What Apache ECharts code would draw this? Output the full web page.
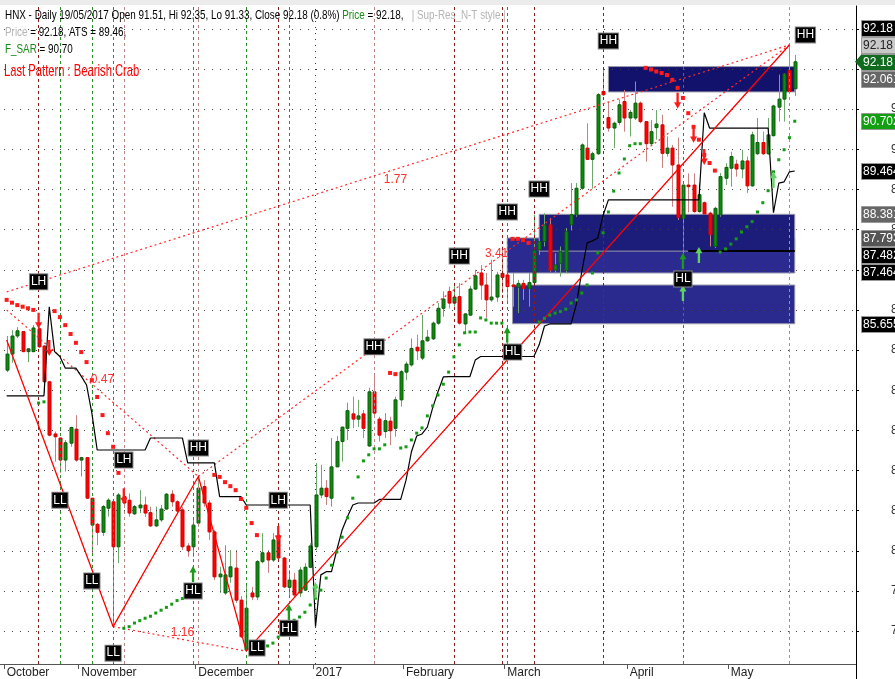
<!DOCTYPE html>
<html>
<head>
<meta charset="utf-8">
<script src="https://cdn.jsdelivr.net/npm/echarts@6/dist/echarts.min.js"></script>
<style>
html, body { margin: 0; padding: 0; background: #fff; }
#chart { width: 895px; height: 679px; }
</style>
</head>
<body>
<div id="chart"></div>
<script>
// sessions per month on screen (Oct 2016 .. May 2017), plus empty bars on the right
const months = [['October', 14], ['November', 22], ['December', 22], ['2017', 17],
                ['February', 19], ['March', 23], ['April', 19], ['May', 13]];
const blankBars = 11;

// daily bars: [open, close, low, high]
const ohlc = [
  [84.50,84.90,84.45,85.35],[84.90,85.35,84.68,85.50],[85.35,85.48,85.30,85.57],[85.46,84.96,84.95,85.47],
  [84.96,85.03,84.70,85.04],[84.96,85.55,84.95,85.62],[85.53,85.08,85.05,85.58],[85.10,84.21,83.93,85.13],
  [84.21,82.88,82.85,84.22],[82.91,82.84,82.22,82.97],[82.81,82.26,81.94,82.81],[82.26,82.69,81.97,82.76],
  [82.68,83.07,82.59,83.09],[83.03,82.26,82.22,83.38],[82.26,82.32,81.85,82.34],[82.32,81.31,81.30,82.33],
  [81.31,80.64,79.94,81.31],[80.66,80.46,80.14,80.69],[80.46,81.10,80.37,81.14],[81.06,81.26,80.85,81.31],
  [81.22,80.10,78.11,81.24],[80.10,81.39,79.69,81.44],[81.35,81.19,81.10,81.43],[81.26,80.94,80.85,81.43],
  [80.92,81.10,80.89,81.14],[81.07,81.14,80.94,81.51],[81.14,80.94,80.84,81.35],[80.95,80.62,80.59,81.10],
  [80.62,80.77,80.59,81.10],[80.77,81.04,80.72,81.14],[81.04,81.41,81.02,81.44],[81.41,81.22,81.10,81.51],
  [81.22,80.99,80.94,81.26],[81.02,80.10,80.02,81.10],[80.12,80.00,79.85,80.19],[80.10,80.64,79.85,80.77],
  [80.69,81.56,80.60,81.85],[81.60,81.19,81.10,81.76],[81.19,80.47,80.27,81.26],[80.47,79.35,79.27,80.52],
  [79.35,79.42,78.95,79.60],[78.95,79.40,78.90,80.14],[79.35,79.60,79.20,80.02],[79.57,78.77,78.70,80.02],
  [78.77,77.86,77.83,78.87],[77.53,78.57,77.50,79.20],[78.95,78.85,78.77,79.10],[78.85,79.73,78.77,79.77],
  [79.73,79.95,79.69,80.44],[79.95,79.77,79.45,80.02],[79.77,80.27,79.72,80.44],[80.39,79.82,79.77,80.57],
  [79.82,79.10,79.07,79.85],[79.09,79.27,78.85,79.52],[79.27,78.90,78.85,79.45],[78.95,79.52,78.85,79.60],
  [79.02,79.59,79.00,79.69],[79.59,80.12,79.57,80.19],[80.10,81.39,80.02,82.19],[81.39,81.56,81.31,82.14],
  [81.56,81.35,81.14,81.76],[81.31,82.09,81.10,82.81],[82.09,82.72,82.09,82.86],[82.72,83.08,82.22,83.09],
  [83.05,83.49,82.76,83.69],[83.41,83.28,83.05,83.84],[83.28,83.36,83.09,83.76],[83.41,83.05,82.81,83.51],
  [82.61,83.96,82.59,84.06],[83.96,83.43,83.31,84.42],[83.28,82.88,82.72,83.34],[82.97,83.24,82.81,83.43],
  [83.23,82.99,82.63,83.34],[83.05,83.76,82.84,83.84],[83.76,84.46,83.59,84.50],[84.45,84.65,84.25,84.71],
  [84.63,85.04,84.59,85.29],[85.07,84.98,84.75,85.38],[84.80,85.23,84.75,85.87],[85.23,85.32,85.21,85.50],
  [85.28,85.67,85.25,85.71],[85.67,86.04,85.63,86.17],[86.04,86.27,85.83,86.46],[86.46,86.17,86.04,86.58],
  [86.17,86.32,86.08,86.62],[86.33,85.67,85.63,86.67],[85.65,85.90,85.42,85.92],[85.87,86.52,85.85,86.60],
  [86.52,86.85,86.50,87.00],[86.92,86.62,86.25,87.12],[86.62,86.25,85.80,86.92],[86.25,86.32,86.20,87.25],
  [86.32,86.87,86.20,86.95],[86.91,86.81,86.42,87.58],[86.87,86.58,86.17,86.92],[86.62,86.58,86.08,86.92],
  [86.56,86.66,85.92,86.75],[86.66,86.54,86.25,86.75],[86.54,86.68,86.08,86.92],[86.68,87.48,86.67,88.37],
  [87.50,87.70,87.37,87.79],[87.70,88.12,87.58,88.41],[88.12,86.99,86.95,88.29],[86.99,87.12,86.91,87.41],
  [87.16,87.45,86.83,87.58],[86.98,87.95,86.91,88.04],[88.12,88.37,87.98,89.16],[88.37,89.03,88.32,89.16],
  [89.03,90.11,88.99,90.15],[90.03,89.75,89.74,90.65],[89.75,89.89,89.02,89.94],[89.89,91.36,89.86,91.40],
  [91.44,91.36,91.33,92.02],[90.79,90.53,90.44,91.19],[90.53,90.65,90.03,90.69],[90.67,91.11,90.61,91.24],
  [91.19,90.78,90.44,91.48],[90.78,90.92,90.32,90.98],[90.78,91.15,90.73,91.69],[91.15,90.69,90.65,91.19],
  [90.69,90.14,89.69,90.70],[90.14,90.44,90.11,90.73],[90.54,90.63,90.24,90.98],[90.61,89.90,89.54,90.86],
  [89.90,90.03,89.82,90.32],[90.03,89.61,88.57,90.11],[89.61,88.30,88.24,90.29],[88.28,89.11,87.25,89.11],
  [89.11,89.07,88.43,89.40],[89.11,88.45,88.42,89.40],[88.45,88.87,88.42,89.16],[88.67,88.39,88.37,88.70],
  [88.41,87.87,87.58,88.45],[87.58,88.53,87.54,88.57],[88.37,89.32,88.32,89.41],[89.28,89.55,89.11,89.65],
  [89.53,89.82,89.07,89.94],[89.63,89.51,89.32,89.74],[89.51,89.71,89.28,89.99],[89.71,89.09,88.91,89.82],
  [89.09,90.36,89.07,90.44],[89.89,90.17,89.86,90.78],[90.17,89.89,89.86,90.44],[89.89,90.36,89.86,90.78],
  [90.34,91.08,90.32,91.11],[91.05,91.25,90.69,91.86],[91.25,91.88,90.69,91.90],[91.96,91.44,91.40,92.60],
  [91.51,92.18,91.33,92.35]
];

// F_SAR value per bar (null = no dot shown)
const sar = [
  86.25,86.18,86.12,86.08,86.04,86.00,83.68,83.71,null,85.97,
  85.82,85.62,85.40,85.18,84.95,84.70,84.25,83.83,83.38,82.93,
  82.59,81.94,78.07,78.11,78.20,78.26,78.32,78.37,78.45,78.52,
  78.59,78.67,78.76,78.81,78.90,79.02,79.15,null,null,81.89,
  81.84,81.71,81.61,81.51,81.29,81.07,80.69,80.39,77.58,77.63,
  77.70,77.85,77.90,78.12,78.27,78.35,78.47,78.65,78.82,79.02,
  79.32,79.64,79.97,80.34,80.82,81.31,81.84,82.24,82.39,82.54,
  82.54,82.64,84.43,84.40,82.56,82.59,82.76,82.93,83.06,83.36,
  83.61,83.88,84.15,84.45,84.83,85.13,85.43,85.45,85.45,85.80,
  85.75,85.67,85.67,85.67,null,87.77,87.77,87.74,87.67,null,
  85.70,85.79,85.87,85.92,85.96,86.02,86.17,86.25,86.42,86.62,
  86.92,87.42,87.92,88.44,88.96,89.41,89.76,90.09,90.14,90.14,
  92.03,91.99,91.94,91.90,91.85,91.73,91.53,91.28,90.90,90.56,
  90.24,89.86,89.66,89.47,87.44,87.52,87.64,87.77,87.94,88.07,
  88.20,88.44,88.67,88.97,89.44,89.74,89.99,90.29,90.70
];

// ATS trailing stop per bar
const ats = [
  83.86,83.86,83.86,83.86,83.86,83.86,83.86,83.86,86.08,84.96,
  84.84,84.55,84.55,84.55,84.35,84.13,83.43,82.51,82.51,82.51,
  82.51,82.51,82.51,82.51,82.51,82.51,82.51,82.81,82.81,82.81,
  82.81,82.81,82.81,82.81,82.19,82.19,82.19,82.19,82.19,82.19,
  81.35,81.35,81.35,81.35,81.35,81.14,81.14,81.14,81.14,81.14,
  81.14,81.14,81.14,81.14,81.14,81.14,81.14,81.14,78.11,79.40,
  79.48,79.48,80.02,80.52,80.85,81.14,81.19,81.19,81.19,81.19,
  81.28,81.28,81.28,81.28,81.28,81.76,82.46,82.86,82.91,83.08,
  83.56,83.96,84.33,84.34,84.34,84.34,84.34,84.34,84.75,84.84,
  84.84,84.84,84.84,84.84,84.84,84.84,84.84,84.84,84.84,84.84,
  85.13,85.60,85.65,85.65,85.65,85.65,85.65,86.15,86.95,87.67,
  87.72,87.79,88.35,88.74,88.74,88.74,88.74,88.74,88.74,88.74,
  88.74,88.74,88.74,88.74,88.74,88.74,88.74,88.74,88.74,88.74,
  88.74,90.91,90.53,90.53,90.53,90.53,90.53,90.53,90.53,90.53,
  90.53,90.53,90.53,90.53,88.42,89.16,89.19,89.44,89.46
];

// zigzag pivots [bar, price]
const zigzag = [[0, 85.25], [20, 78.11], [36, 81.85], [45, 77.50], [147, 92.60]];
// harmonic pattern legs [barA, priceA, barB, priceB]
const patternLegs = [[0, 86.45, 147, 92.60], [36, 81.85, 147, 92.60], [0, 86.00, 36, 81.85], [20, 78.11, 45, 77.50]];
// ratio texts [text, bar, price]
const ratioTexts = [['1.77', 73, 89.24], ['0.47', 18, 84.25], ['1.16', 33, 77.95], ['3.41', 92, 87.40]];
// swing tags [bar, price, text]
const swingTags = [
  [6, 86.70, 'LH'], [10, 81.26, 'LL'], [16, 79.25, 'LL'], [20, 77.45, 'LL'], [22, 82.26, 'LH'],
  [35, 79.00, 'HL'], [36, 82.56, 'HH'], [47, 77.58, 'LL'], [51, 81.26, 'LH'], [53, 78.07, 'HL'],
  [69, 85.08, 'HH'], [85, 87.34, 'HH'], [94, 88.44, 'HH'], [95, 84.95, 'HL'], [100, 89.01, 'HH'],
  [113, 92.70, 'HH'], [127, 86.77, 'HL'], [150, 92.85, 'HH']
];
// signal arrows
const sellArrows = [[6, 85.73], [8, 85.05], [22, 81.36], [51, 80.42], [126, 91.21], [129, 90.36], [131, 89.81]];
const buyArrows = [[35, 79.42], [53, 78.47], [94, 85.38], [127, 87.22]];
const buyArrowsLight = [[58, 79.02], [127, 86.42], [130, 87.37], [144, 89.24]];
// signal bars (vertical lines)
const sellBars = [6, 51, 84, 93, 99, 112];
const sellBarsLight = [22, 36, 69, 147];
const buyBars = [10, 16, 20, 35, 45, 53, 94, 127];
// supply / demand zones [fromBar, toBar, top, bottom]
const zones = [[113, 148, 92.061, 91.43], [94, 148, 87.793, 86.92], [100, 148, 88.381, 87.464], [95, 148, 86.62, 85.655]];
const stopLine = [128, 148, 87.47];
// right-hand value tags
const tagValues = [92.18, 92.18, 92.18, 92.061, 90.702, 89.464, 88.381, 87.793, 87.482, 87.464, 85.655];
const tagKinds = ['high', 'price', 'close', 'zone', 'sar', 'ats', 'zone', 'zone2', 'stop', 'stop', 'stop'];
const priceTicks = [78, 79, 80, 81, 82, 83, 84, 85, 86, 87, 88, 89, 90, 91, 92, 93];
const yMin = 77.18, yMax = 93.57;

const FONT = '"Liberation Sans", Arial, sans-serif';

const categories = [];
const monthStarts = new Set();
months.forEach(([name, n]) => {
  monthStarts.add(categories.length);
  for (let k = 0; k < n; k++) categories.push(name + '#' + k);
});
for (let k = 0; k < blankBars; k++) categories.push('#b' + k);
const yearBar = categories.indexOf('2017#0');

const chart = echarts.init(document.getElementById('chart'), null, { renderer: 'canvas' });

const vLine = (idx, color, dash) => ({ xAxis: idx, lineStyle: { color: color, type: dash, width: 1 } });

const arrowDown = 'path://M2,0 L4,0 L4,9 L6,9 L3,15 L0,9 L2,9 Z';
const arrowUp = 'path://M3,0 L6,6 L4,6 L4,15 L2,15 L2,6 L0,6 Z';

const option = {
  animation: false,
  backgroundColor: '#ffffff',
  textStyle: { fontFamily: FONT },
  grid: { left: 4, right: 39, top: 6, bottom: 15, outerBoundsMode: 'none', containLabel: false },
  xAxis: {
    type: 'category',
    data: categories,
    boundaryGap: true,
    axisLine: { lineStyle: { color: '#555', width: 1 } },
    axisTick: { show: true, length: 5, interval: (i) => monthStarts.has(i), lineStyle: { color: '#555' } },
    axisLabel: {
      interval: (i) => monthStarts.has(i), align: 'left', margin: 3,
      color: '#222', fontSize: 12, fontFamily: FONT,
      formatter: (v) => v.split('#')[0]
    },
    splitLine: { show: false }
  },
  yAxis: {
    type: 'value',
    position: 'right',
    min: yMin,
    max: yMax,
    axisLine: { show: true, lineStyle: { color: '#000' } },
    axisTick: { show: true, length: 3, customValues: priceTicks, lineStyle: { color: '#000' } },
    axisLabel: { show: true, customValues: priceTicks, margin: 35, color: '#333', fontSize: 12, fontFamily: FONT },
    splitLine: { show: false }
  },
  series: [
    {
      // backdrop: grid lines, signal lines
      type: 'line',
      data: ats,
      showSymbol: false,
      silent: true,
      z: 1,
      lineStyle: { opacity: 0 },
      markLine: {
        silent: true, symbol: 'none', label: { show: false }, animation: false,
        data: [].concat(
          priceTicks.map(p => ({ yAxis: p, lineStyle: { color: '#444', type: [1, 7], width: 1 } })),
          sellBars.map(b => vLine(b, '#8b1c1c', [3, 3])),
          sellBarsLight.map(b => vLine(b, '#b98585', [3, 3])),
          buyBars.map(b => vLine(b, '#2e8b2e', [3, 3])),
          [vLine(yearBar, '#333', [1, 5])]
        )
      }
    },
    {
      // zones
      type: 'line',
      data: [],
      silent: true,
      z: 2,
      markArea: {
        silent: true,
        data: zones.map((zn, k) => [
          { coord: [zn[0], zn[2]], itemStyle: { color: ['#12126c', '#2a2a90', '#1c1c7a', '#29298e'][k], borderColor: '#9a9aaa', borderWidth: 1, opacity: 1 } },
          { coord: [zn[1], zn[3]] }
        ])
      }
    },
    {
      name: 'price',
      type: 'custom',
      z: 4,
      encode: { x: 0, y: [1, 2, 3, 4] },
      data: ohlc.map((d, i) => [i, d[0], d[1], d[2], d[3]]),
      renderItem: function (params, api) {
        const i = api.value(0);
        const o = api.coord([i, api.value(1)]);
        const c = api.coord([i, api.value(2)]);
        const l = api.coord([i, api.value(3)]);
        const h = api.coord([i, api.value(4)]);
        const up = api.value(2) >= api.value(1);
        const x = Math.round(o[0]) + 0.5;
        const top = Math.min(o[1], c[1]);
        const ht = Math.max(1, Math.abs(o[1] - c[1]));
        return {
          type: 'group',
          children: [
            { type: 'line', shape: { x1: x, y1: h[1], x2: x, y2: l[1] },
              style: { stroke: up ? '#6fa86f' : '#c98080', lineWidth: 1 } },
            { type: 'rect', shape: { x: x - 1.5, y: top, width: 3, height: ht },
              style: { fill: up ? '#0c8c0c' : '#ff0000', stroke: up ? '#0a5c0a' : '#d40000', lineWidth: 1 } }
          ]
        };
      }
    },
    {
      name: 'ATS',
      type: 'line',
      data: ats,
      showSymbol: false,
      z: 5,
      lineStyle: { color: '#000', width: 1.2 }
    },
    {
      name: 'zigzag',
      type: 'line',
      data: zigzag,
      showSymbol: false,
      z: 6,
      lineStyle: { color: '#ff0000', width: 1.3 },
      markLine: {
        silent: true, symbol: 'none', label: { show: false },
        data: [
          ...patternLegs.map(pl => [
            { coord: [pl[0], pl[1]], lineStyle: { color: '#ff2a2a', type: [2, 3], width: 1.2 } },
            { coord: [pl[2], pl[3]] }
          ]),
          [{ coord: [stopLine[0], stopLine[2]], lineStyle: { color: '#000', type: 'solid', width: 2 } },
           { coord: [stopLine[1], stopLine[2]] }]
        ]
      }
    },
    {
      name: 'F_SAR',
      type: 'scatter',
      z: 7,
      symbol: 'rect',
      itemStyle: { opacity: 1 },
      data: sar.map((v, i) => v == null ? null : {
        value: [i, v],
        symbolSize: v > ohlc[i][1] ? 4 : 3,
        itemStyle: { color: v > ohlc[i][1] ? '#ff1a1a' : '#159a15', opacity: 1 }
      }).filter(Boolean)
    },
    {
      type: 'scatter', z: 8, symbol: arrowDown, symbolSize: [7, 16], symbolKeepAspect: false,
      itemStyle: { color: '#ff1a1a', opacity: 1 }, data: sellArrows
    },
    {
      type: 'scatter', z: 8, symbol: arrowUp, symbolSize: [7, 16], symbolKeepAspect: false,
      itemStyle: { color: '#1c9a1c', opacity: 1 }, data: buyArrows
    },
    {
      type: 'scatter', z: 8, symbol: arrowUp, symbolSize: [7, 16], symbolKeepAspect: false,
      itemStyle: { color: '#5fd35f', opacity: 1 }, data: buyArrowsLight
    },
    {
      type: 'scatter', z: 9, symbol: 'rect', symbolSize: 1,
      itemStyle: { color: 'rgba(0,0,0,0)', opacity: 1 },
      data: swingTags.map(t => ({ value: [t[0], t[1]], name: t[2] })),
      label: {
        show: true, position: 'inside', formatter: '{b}', opacity: 1,
        color: '#fff', backgroundColor: '#000', borderColor: '#8a8a8a', borderWidth: 1,
        padding: [2, 1, 1, 1], fontSize: 12, fontFamily: FONT
      }
    },
    {
      type: 'scatter', z: 9, symbol: 'rect', symbolSize: 1,
      itemStyle: { color: 'rgba(0,0,0,0)', opacity: 1 },
      data: ratioTexts.map(t => ({ value: [t[1], t[2]], name: t[0] })),
      label: { show: true, position: 'inside', formatter: '{b}', opacity: 1, color: '#ff3030', fontSize: 12, fontFamily: FONT }
    }
  ],
  graphic: [
    { id: 'topband', type: 'rect', x: 0, y: 0, shape: { width: 895, height: 5 }, style: { fill: '#ececec' }, silent: true, z: 100 },
    {
      id: 'hdr', type: 'text', x: 5, y: 7, scaleX: 0.76, z: 100,
      style: {
        text: '{k|HNX - Daily 19/05/2017 Open 91.51, Hi 92.35, Lo 91.33, Close 92.18 (0.8%) }{g|Price}{k| = 92.18,}   {s|| Sup-Res_N-T style |}\n' +
              '{s|Price}{k| = 92.18, ATS = 89.46,}\n{g|F_SAR}{k| = 90.70}',
        fontSize: 13, fontFamily: FONT, verticalAlign: 'top', lineHeight: 17,
        rich: {
          k: { fill: '#000', fontSize: 13, fontFamily: FONT, lineHeight: 17 },
          g: { fill: '#1a8a1a', fontSize: 13, fontFamily: FONT, lineHeight: 17 },
          s: { fill: '#b4b4b4', fontSize: 13, fontFamily: FONT, lineHeight: 17 }
        }
      }
    },
    {
      id: 'pattern', type: 'text', x: 4, y: 63, scaleX: 0.66, z: 100,
      style: { text: 'Last Pattern : Bearish Crab', fill: '#ff0000', fontSize: 17, fontFamily: FONT, verticalAlign: 'top' }
    }
  ]
};

chart.setOption(option);

// value tags on the price axis, stacked so they do not overlap
const tagStyles = {
  high: { bg: '#000000', fg: '#ffffff' },
  price: { bg: '#c9c9c9', fg: '#222222' },
  close: { bg: '#0f6b1e', fg: '#ffffff' },
  zone: { bg: '#666666', fg: '#ffffff' },
  zone2: { bg: '#555555', fg: '#ffffff' },
  sar: { bg: '#12a012', fg: '#ffffff' },
  ats: { bg: '#000000', fg: '#ffffff' },
  stop: { bg: '#000000', fg: '#ffffff' }
};
const TAG_H = 16, GAP = 17;
const gridRect = chart.getModel().getComponent('grid').coordinateSystem.getRect();
const axisX = gridRect.x + gridRect.width;
const axisY = gridRect.y + gridRect.height;
const anchorIdx = tagKinds.indexOf('close');
const anchorY = chart.convertToPixel({ yAxisIndex: 0 }, tagValues[anchorIdx]);
const placed = [];

// tags with the same value as the close sit above it
const sameAsClose = tagValues.map((v, i) => i).filter(i => i !== anchorIdx && tagValues[i] === tagValues[anchorIdx]);
sameAsClose.forEach((i, k) => placed.push({ i: i, y: anchorY - GAP * (sameAsClose.length - k) }));
placed.push({ i: anchorIdx, y: anchorY });
let prevY = anchorY;
tagValues.forEach((v, i) => {
  if (v === tagValues[anchorIdx]) return;
  const ideal = chart.convertToPixel({ yAxisIndex: 0 }, v);
  const y = Math.max(ideal, prevY + GAP);
  placed.push({ i: i, y: y });
  prevY = y;
});

const tagEls = [
  // axis frame carried to the window edges
  { id: 'yAxisExt', type: 'line', z: 90, shape: { x1: Math.round(axisX) + 0.5, y1: axisY, x2: Math.round(axisX) + 0.5, y2: 679 }, style: { stroke: '#000', lineWidth: 1 } },
  { id: 'xAxisExt', type: 'line', z: 90, shape: { x1: 0, y1: Math.round(axisY) + 0.5, x2: gridRect.x, y2: Math.round(axisY) + 0.5 }, style: { stroke: '#555', lineWidth: 1 } }
];
placed.forEach((p, n) => {
  const st = tagStyles[tagKinds[p.i]];
  const x0 = Math.round(axisX) + 5;
  tagEls.push({
    id: 'tagbox' + n, type: 'rect', z: 120,
    shape: { x: x0 + 0.5, y: Math.round(p.y - TAG_H / 2) + 0.5, width: 60, height: TAG_H },
    style: { fill: st.bg, stroke: '#999', lineWidth: 1 }
  });
  tagEls.push({
    id: 'tagtxt' + n, type: 'text', z: 121, x: x0 + 2, y: Math.round(p.y) + 1,
    style: { text: String(tagValues[p.i]), fill: st.fg, fontSize: 12, fontFamily: FONT, verticalAlign: 'middle' }
  });
  if (tagKinds[p.i] === 'close') {
    tagEls.push({
      id: 'tagptr', type: 'polygon', z: 121,
      shape: { points: [[x0 - 6, p.y], [x0 + 1, p.y - TAG_H / 2], [x0 + 1, p.y + TAG_H / 2]] },
      style: { fill: st.bg }
    });
  }
});
chart.setOption({ graphic: tagEls });
</script>
</body>
</html>
